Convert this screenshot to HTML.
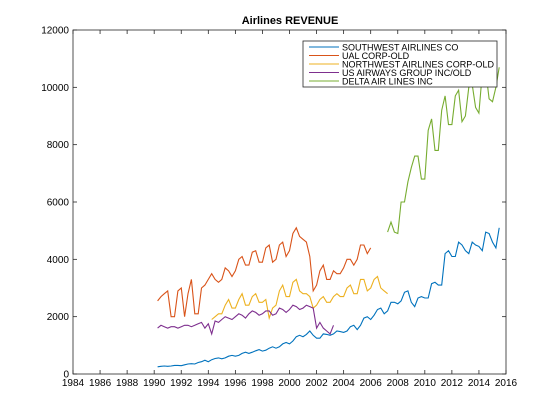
<!DOCTYPE html>
<html><head><meta charset="utf-8"><style>
body{margin:0;background:#fff}
svg{display:block;font-family:"Liberation Sans",sans-serif}
</style></head><body>
<svg id="c" width="560" height="420">
<rect x="0" y="0" width="560" height="420" fill="#fff"/>
<text x="290" y="24" text-anchor="middle" font-size="11" font-weight="bold">Airlines REVENUE</text>
<rect x="73" y="30" width="433" height="344" fill="#fff" stroke="#262626" stroke-width="0.8"/>
<g id="axes"></g>
<g id="series"></g>
<g id="legend"></g>
</svg>
<script>
const xTicks=[1984,1986,1988,1990,1992,1994,1996,1998,2000,2002,2004,2006,2008,2010,2012,2014,2016];
const yTicks=[0,2000,4000,6000,8000,10000,12000];
const seriesNames=["SOUTHWEST AIRLINES CO","UAL CORP-OLD","NORTHWEST AIRLINES CORP-OLD","US AIRWAYS GROUP INC/OLD","DELTA AIR LINES INC"];
const seriesStart=[1990.25,1990.25,1994.25,1990.25,2007.25];
const southwest=[250,270,280,270,280,300,300,290,320,350,360,350,400,430,480,430,500,540,560,530,560,620,650,620,650,720,760,720,760,810,850,800,830,900,950,900,950,1050,1100,1050,1150,1300,1350,1300,1380,1500,1350,1250,1250,1400,1380,1350,1400,1500,1480,1450,1500,1650,1700,1550,1700,1950,2000,1900,2050,2250,2300,2100,2200,2500,2500,2450,2550,2850,2900,2500,2350,2650,2700,2650,2650,3150,3200,3100,3100,4200,4300,4100,4100,4600,4500,4300,4200,4600,4500,4450,4300,4950,4900,4600,4400,5100];
const ual=[2550,2700,2800,2900,2000,2000,2900,3000,2000,2800,3300,2100,2100,3000,3100,3300,3500,3300,3200,3300,3700,3600,3400,3600,4000,4100,3800,3800,4250,4300,3900,3900,4400,4500,3900,4000,4500,4600,4100,4300,4900,5100,4800,4700,4600,4100,2900,3100,3600,3800,3300,3300,3600,3500,3500,3700,4000,4000,3800,4000,4500,4500,4200,4400];
const northwest=[1900,2000,2100,2100,2400,2600,2300,2300,2600,2800,2400,2400,2700,2800,2500,2500,2600,1950,2300,2400,2900,3100,2700,2700,3200,3300,2900,2800,2800,2700,2300,2400,2600,2700,2500,2500,2700,2800,2700,2700,3000,3100,2800,2800,3300,3300,2900,3000,3300,3400,3000,2900,2800];
const usair=[1600,1700,1650,1600,1650,1650,1600,1650,1700,1700,1650,1700,1750,1800,1600,1750,1400,1850,1800,1900,2000,1950,1900,2000,2100,2050,1950,2100,2200,2150,2050,2100,2200,2200,2050,2100,2300,2250,2150,2250,2400,2350,2250,2300,2400,2350,2300,1600,1800,1600,1500,1400,1700];
const delta=[4950,5300,4950,4900,6000,6000,6700,7200,7600,7600,6800,6800,8500,8900,7800,7800,9200,9700,8700,8700,9700,9900,8800,9000,10000,10100,9300,9100,10500,10600,9600,9500,10000,10700];
const seriesValues=[southwest,ual,northwest,usair,delta];
const colors=["#0072BD","#D95319","#EDB120","#7E2F8E","#77AC30"];
const X0=73,X1=506,Y0=374,Y1=30;
const xs=y=>X0+(y-1984)/(2016-1984)*(X1-X0);
const ys=v=>Y0-v/12000*(Y0-Y1);
const NS="http://www.w3.org/2000/svg";
function mk(t,a,p){const e=document.createElementNS(NS,t);for(const k in a)e.setAttribute(k,a[k]);p.appendChild(e);return e;}
const ax=document.getElementById('axes');
xTicks.forEach(t=>{
 const x=xs(t);
 const l=mk('line',{x1:x,x2:x,y1:Y0,y2:Y0-4,stroke:'#262626','stroke-width':0.8},ax);
 
 
 mk('line',{x1:x,x2:x,y1:Y1,y2:Y1+4,stroke:'#262626','stroke-width':0.8},ax);
 const tx=mk('text',{x:x,y:Y0+12,'text-anchor':'middle','font-size':10},ax);
 tx.textContent=t;
 
 
});
yTicks.forEach(t=>{
 const y=ys(t);
 const l=mk('line',{x1:X0,x2:X0+4,y1:y,y2:y,stroke:'#262626','stroke-width':0.8},ax);
 
 
 mk('line',{x1:X1,x2:X1-4,y1:y,y2:y,stroke:'#262626','stroke-width':0.8},ax);
 const tx=mk('text',{x:X0-4,y:y+3.5,'text-anchor':'end','font-size':10},ax);
 tx.textContent=t;
 
 
});
const sg=document.getElementById('series');
seriesValues.forEach((vals,i)=>{
 const pts=vals.map((v,j)=>xs(seriesStart[i]+j*0.25).toFixed(1)+','+ys(v).toFixed(1)).join(' ');
 const p=mk('polyline',{points:pts,fill:'none',stroke:colors[i],'stroke-width':1.1},sg);
 
 
});
const lg=document.getElementById('legend');
const box=mk('rect',{x:303,y:41,width:194,height:46,fill:'#fff',stroke:'#262626','stroke-width':0.8},lg);


seriesNames.forEach((n,i)=>{
 const y=47+i*8.5;
 const l=mk('line',{x1:309,x2:339,y1:y,y2:y,stroke:colors[i],'stroke-width':1.1},lg);
 
 
 const t=mk('text',{x:342,y:y+3.5,'font-size':9,textLength:n.length>24?152:null},lg);
 if(n.length<=24)t.removeAttribute('textLength');
 t.textContent=n;
 
 
});
</script>
</body></html>
